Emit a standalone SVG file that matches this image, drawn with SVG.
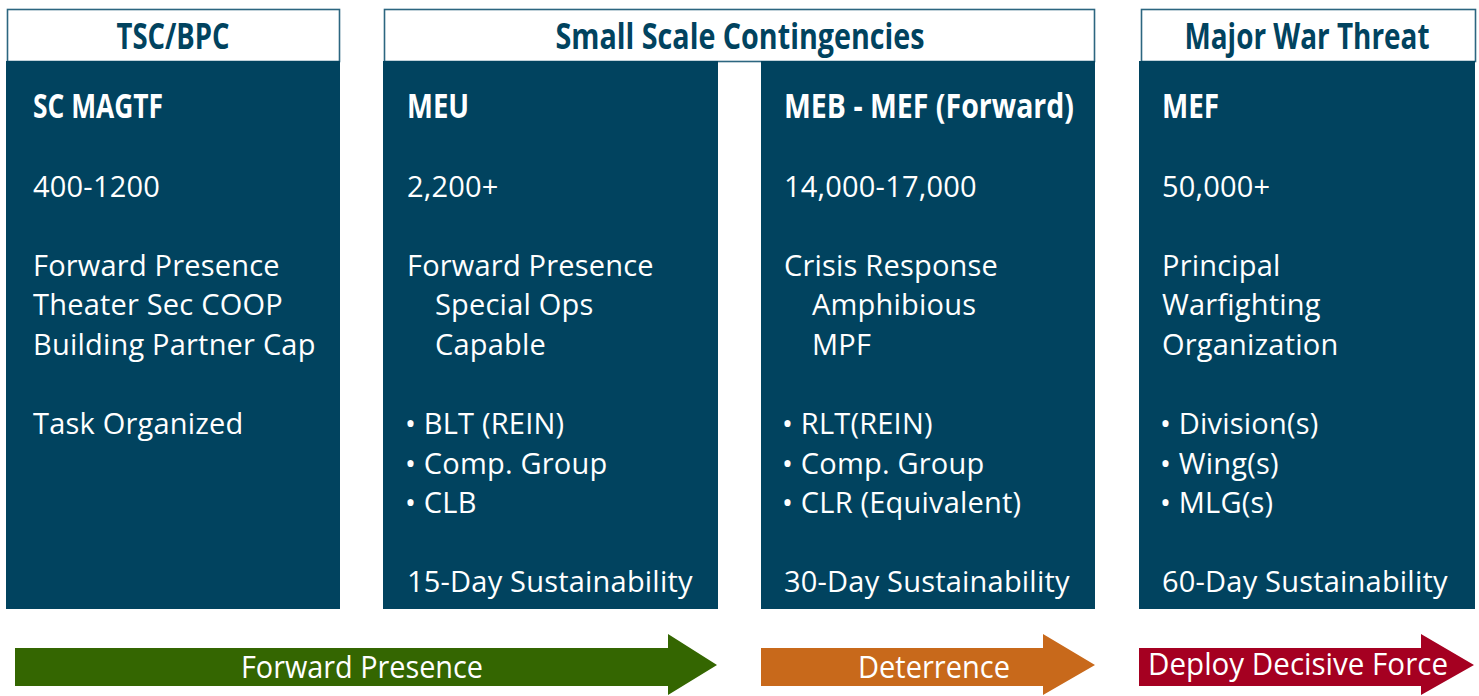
<svg xmlns="http://www.w3.org/2000/svg" width="1479" height="696" viewBox="0 0 1479 696">
<style>
.hdr{fill:#fff;stroke:#2c6680;stroke-width:1.6}
.hdrt{font-family:"Open Sans","Liberation Sans",sans-serif;font-weight:bold;font-size:36px;fill:#01435f;text-anchor:middle}
.panel{fill:#01435f}
.ttl{font-family:"Open Sans","Liberation Sans",sans-serif;font-weight:bold;font-size:34px;fill:#fff}
.bt{font-family:"Open Sans","Liberation Sans",sans-serif;font-size:29px;fill:#fff;letter-spacing:0.2px}
.at{font-family:"Open Sans","Liberation Sans",sans-serif;font-size:31px;fill:#fff;text-anchor:middle}
</style>
<rect width="1479" height="696" fill="#fff"/>
<g id="header-tsc">
<rect class="hdr" x="7.5" y="9.5" width="332" height="52"/>
<text class="hdrt" x="173" y="49" textLength="113" lengthAdjust="spacingAndGlyphs">TSC/BPC</text>
</g>
<g id="header-ssc">
<rect class="hdr" x="384.5" y="9.5" width="710" height="52"/>
<text class="hdrt" x="740" y="49" textLength="369" lengthAdjust="spacingAndGlyphs">Small Scale Contingencies</text>
</g>
<g id="header-mwt">
<rect class="hdr" x="1141.5" y="9.5" width="334" height="52"/>
<text class="hdrt" x="1307" y="49" textLength="245" lengthAdjust="spacingAndGlyphs">Major War Threat</text>
</g>
<g id="panel-scmagtf">
<rect class="panel" x="6" y="61" width="334" height="548"/>
<text class="ttl" x="33" y="118" textLength="130" lengthAdjust="spacingAndGlyphs">SC MAGTF</text>
<text class="bt" x="33" y="197">400-1200</text>
<text class="bt" x="33" y="276">Forward Presence</text>
<text class="bt" x="33" y="315">Theater Sec COOP</text>
<text class="bt" x="33" y="355">Building Partner Cap</text>
<text class="bt" x="33" y="434">Task Organized</text>
</g>
<g id="panel-meu">
<rect class="panel" x="383" y="61" width="335" height="548"/>
<text class="ttl" x="407" y="118" textLength="62" lengthAdjust="spacingAndGlyphs">MEU</text>
<text class="bt" x="407" y="197">2,200+</text>
<text class="bt" x="407" y="276">Forward Presence</text>
<text class="bt" x="435" y="315">Special Ops</text>
<text class="bt" x="435" y="355">Capable</text>
<text class="bt" x="405" y="434">• BLT (REIN)</text>
<text class="bt" x="405" y="474">• Comp. Group</text>
<text class="bt" x="405" y="513">• CLB</text>
<text class="bt" x="407" y="592">15-Day Sustainability</text>
</g>
<g id="panel-meb">
<rect class="panel" x="761" y="61" width="334" height="548"/>
<text class="ttl" x="784" y="118" textLength="290" lengthAdjust="spacingAndGlyphs">MEB - MEF (Forward)</text>
<text class="bt" x="784" y="197">14,000-17,000</text>
<text class="bt" x="784" y="276">Crisis Response</text>
<text class="bt" x="812" y="315">Amphibious</text>
<text class="bt" x="812" y="355">MPF</text>
<text class="bt" x="782" y="434">• RLT(REIN)</text>
<text class="bt" x="782" y="474">• Comp. Group</text>
<text class="bt" x="782" y="513">• CLR (Equivalent)</text>
<text class="bt" x="784" y="592">30-Day Sustainability</text>
</g>
<g id="panel-mef">
<rect class="panel" x="1139" y="61" width="336" height="548"/>
<text class="ttl" x="1162" y="118" textLength="57" lengthAdjust="spacingAndGlyphs">MEF</text>
<text class="bt" x="1162" y="197">50,000+</text>
<text class="bt" x="1162" y="276">Principal</text>
<text class="bt" x="1162" y="315">Warfighting</text>
<text class="bt" x="1162" y="355">Organization</text>
<text class="bt" x="1160" y="434">• Division(s)</text>
<text class="bt" x="1160" y="474">• Wing(s)</text>
<text class="bt" x="1160" y="513">• MLG(s)</text>
<text class="bt" x="1162" y="592">60-Day Sustainability</text>
</g>
<g id="connectors">
<g id="arrow-forward">
<polygon fill="#346601" points="15,648 668,648 668,634 717,665 668,695 668,686 15,686"/>
<text class="at" x="362" y="678" textLength="242" lengthAdjust="spacingAndGlyphs">Forward Presence</text>
</g>
<g id="arrow-deterrence">
<polygon fill="#c8691b" points="761,648 1043,648 1043,634 1095,665 1043,695 1043,686 761,686"/>
<text class="at" x="934" y="678" textLength="152" lengthAdjust="spacingAndGlyphs">Deterrence</text>
</g>
<g id="arrow-decisive">
<polygon fill="#a50021" points="1139,648 1421,648 1421,634 1474,665 1421,695 1421,686 1139,686"/>
<text class="at" x="1298" y="675" textLength="300" lengthAdjust="spacingAndGlyphs">Deploy Decisive Force</text>
</g>
</g>
</svg>
